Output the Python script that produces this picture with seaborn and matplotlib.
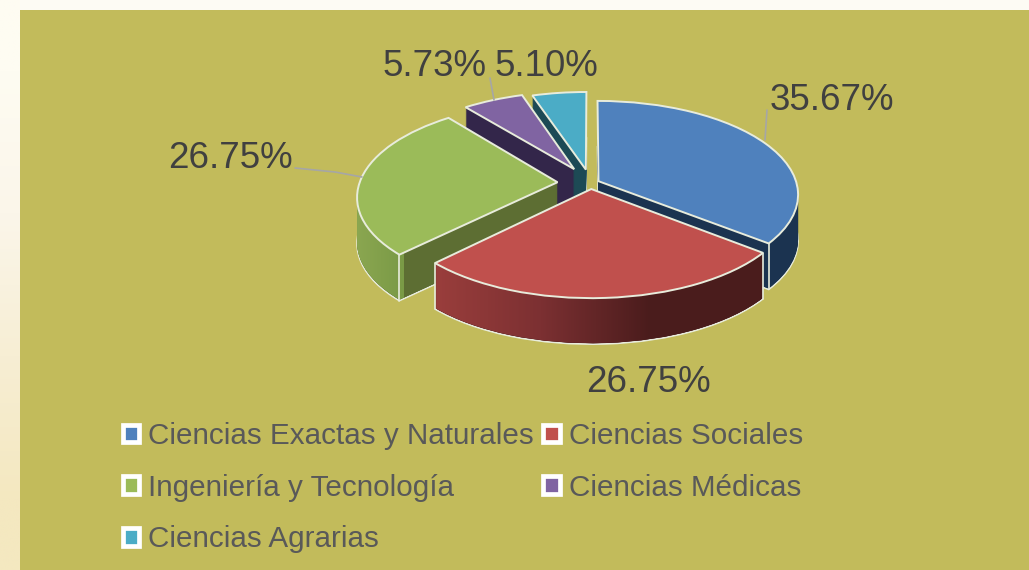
import numpy as np
import matplotlib
matplotlib.use("Agg")
import matplotlib.pyplot as plt
import matplotlib.transforms as mtransforms
from matplotlib.patches import Patch, Rectangle
import seaborn as sns

# Data
categories = ['Ciencias Exactas y Naturales', 'Ciencias Sociales', 'Ingeniería y Tecnología',
              'Ciencias Médicas', 'Ciencias Agrarias']
shares = [35.67, 26.75, 26.75, 5.73, 5.10]

# Style
explode = [0.045, 0.065, 0.167, 0.175, 0.15]
top_colors = sns.color_palette(['#4f81bd', '#c0504d', '#9bbb59', '#8064a2', '#4bacc6'])
wall_colors = ['#1b3350', '#4a1c1c', '#5d6e33', '#33264a', '#1d4a55']
draw_order = [4, 3, 2, 0, 1]
edge_color = '#e8ecdc'
panel_color = '#c2bb5b'
depth = 46

sns.set_theme(style="white")
plt.rcParams['font.family'] = ['Liberation Sans', 'DejaVu Sans']


# Flat pie plane to pixels, the back of the pie shrinks a little
class Tilt(mtransforms.Transform):
    input_dims = 2
    output_dims = 2
    has_inverse = False

    def __init__(self, drop=0):
        super().__init__()
        self.drop = drop

    def transform_non_affine(self, xy):
        xy = np.asarray(xy, dtype=float)
        s = 1 / (1 + 0.14 * xy[:, 1])
        return np.column_stack([590.5 + 198 * xy[:, 0] * s, 183 + self.drop - 92 * xy[:, 1] * s])


def gradient(stops):
    xs = np.arange(1029)
    px = np.array([c for _, c in stops], dtype=float)
    pos = [p for p, _ in stops]
    return np.stack([np.interp(xs, pos, px[:, i]) for i in range(3)], axis=-1)[None, :, :] / 255


wall_gradients = {
    1: gradient([(434, (154, 62, 60)), (540, (124, 48, 50)), (650, (74, 28, 28)), (1029, (74, 28, 28))]),
    2: gradient([(358, (138, 166, 80)), (403, (122, 154, 70)), (404, (93, 110, 51)), (1029, (93, 110, 51))]),
}

fig = plt.figure(figsize=(10.29, 5.7), dpi=100, facecolor='#fdfbf4')
ax = fig.add_axes([0, 0, 1, 1])

# Page background: the strip on the left gets warmer towards the bottom
strip = np.array([[[254, 252, 242]], [[251, 246, 234]], [[247, 238, 212]], [[244, 232, 192]]]) / 255
ax.imshow(strip, extent=(0, 20, 570, 0), aspect='auto', interpolation='bilinear', zorder=0)
ax.add_patch(Rectangle((20, 10), 1009, 560, facecolor=panel_color, edgecolor='none', zorder=1))

for rank, i in enumerate(draw_order):
    base = 10 * (rank + 1)
    for d in range(depth, 0, -1):
        wedges = ax.pie(shares, explode=explode, startangle=90, counterclock=False, radius=1)[0]
        for j, w in enumerate(wedges):
            if j != i:
                w.remove()
                continue
            w.set_transform(Tilt(d) + ax.transData)
            w.set_facecolor(wall_colors[i])
            w.set_edgecolor(edge_color if d == depth else 'none')
            w.set_linewidth(1.2 if d == depth else 0)
            w.set_zorder(base)
            if i in wall_gradients and d < depth:
                im = ax.imshow(wall_gradients[i], extent=(0, 1029, 570, 0), aspect='auto', zorder=base + 1)
                im.set_clip_path(w)

    # corner lines on the wall (front corners only), then the lit top of the slice
    wedges = ax.pie(shares, explode=explode, startangle=90, counterclock=False, radius=1)[0]
    for j, w in enumerate(wedges):
        if j != i:
            w.remove()
            continue
        for theta in (w.theta1, w.theta2):
            if np.sin(np.radians(theta)) > 0:
                continue
            px, py = w.center[0] + np.cos(np.radians(theta)), w.center[1] + np.sin(np.radians(theta))
            top = Tilt(0).transform_non_affine(np.array([[px, py]]))[0]
            ax.plot([top[0], top[0]], [top[1], top[1] + depth], color=edge_color, lw=1.2, zorder=base + 2)
        w.set_transform(Tilt(0) + ax.transData)
        w.set_facecolor(top_colors[i])
        w.set_edgecolor(edge_color)
        w.set_linewidth(1.4)
        w.set_zorder(base + 3)

# Leader lines
ax.plot([295, 335, 362], [168, 172, 177], color='#a6a6a6', lw=1.2, zorder=80)
ax.plot([490, 494], [78, 100], color='#a6a6a6', lw=1.2, zorder=80)
ax.plot([767, 765], [110, 140], color='#a6a6a6', lw=1.2, zorder=80)

# Value labels
label_pos = [(832, 100), (648, 382), (230, 158), (435, 67), (546, 67)]
for v, (x, y) in zip(shares, label_pos):
    ax.text(x, y, f"{v:.2f}%", ha='center', va='center', fontsize=26.5, color='#404040', zorder=90)

# Legend, filled column by column
handles = [Patch(facecolor=c, edgecolor='white', linewidth=3.4, label=n) for c, n in zip(top_colors, categories)]
legend_order = [0, 2, 4, 1, 3]
ax.legend([handles[i] for i in legend_order], [categories[i] for i in legend_order], ncol=2,
          loc='upper left', bbox_to_anchor=(123, 422), bbox_transform=ax.transData, frameon=False,
          fontsize=21.3, labelcolor='#595959', borderpad=0, borderaxespad=0, handlelength=0.55,
          handleheight=0.55, handletextpad=0.3, columnspacing=0.32, labelspacing=0.8)

ax.set_aspect('auto')
ax.set_xlim(0, 1029)
ax.set_ylim(570, 0)
ax.axis('off')
fig.savefig("out.png", dpi=100, facecolor=fig.get_facecolor())
